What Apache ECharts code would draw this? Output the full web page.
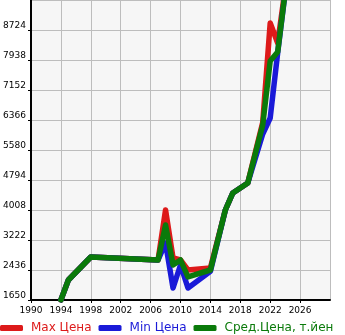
<!DOCTYPE html>
<html><head><meta charset="utf-8">
<script src="https://cdn.jsdelivr.net/npm/echarts@6/dist/echarts.min.js"></script>
<style>html,body{margin:0;padding:0;background:#fff}#c{width:345px;height:335px}</style>
</head><body><div id="c"></div>
<script>
const years = [1994, 1995, 1998, 2007, 2008, 2009, 2010, 2011, 2014, 2016, 2017, 2019, 2021, 2022, 2023, 2024];
const maxPrice = [1650, 2174, 2777, 2698, 4008, 2750, 2698, 2436, 2488, 4008, 4454, 4715, 6300, 8907, 8383, 9800];
const minPrice = [1650, 2174, 2777, 2698, 3143, 1964, 2567, 1964, 2400, 4008, 4454, 4715, 6000, 6418, 8120, 9700];
const avgPrice = [1650, 2174, 2777, 2698, 3615, 2567, 2698, 2253, 2436, 4008, 4454, 4715, 6235, 7912, 8148, 9720];
const seriesNames = ['Max Цена', 'Min Цена', 'Сред.Цена, т.йен'];
const colors = ['#dd1a1a', '#1a1ad8', '#0a7a0a'];
const xTicks = {min: 1990, max: 2030, interval: 4};
const yTicks = {min: 1650, max: 9510, interval: 786};

const pair = (vals) => years.map((y, i) => [y, vals[i]]);
const font = 'DejaVu Sans';
const chart = echarts.init(document.getElementById('c'), null, {renderer: 'canvas'});
const mk = (name, vals, color, z) => ({
  name, type: 'line', data: pair(vals), symbol: 'none', clip: true, z,
  lineStyle: {color, width: 5.5, join: 'round', cap: 'round'}, itemStyle: {color}
});
chart.setOption({
  animation: false,
  grid: {left: 31, right: 15, top: 0, bottom: 35, show: true, backgroundColor: '#f6f6f6', borderWidth: 0, containLabel: false},
  xAxis: {
    type: 'value', min: xTicks.min, max: xTicks.max, interval: xTicks.interval,
    axisLine: {show: true, onZero: false, lineStyle: {color: '#000', width: 2}},
    axisTick: {show: true, length: 3, lineStyle: {color: '#000'}},
    splitLine: {show: true, lineStyle: {color: '#bdbdbd', width: 1}},
    axisLabel: {color: '#000', fontFamily: font, fontSize: 9, margin: 6, showMaxLabel: false, formatter: v => String(v)}
  },
  yAxis: {
    type: 'value', min: yTicks.min, max: yTicks.max, interval: yTicks.interval,
    axisLine: {show: true, onZero: false, lineStyle: {color: '#000', width: 2}},
    axisTick: {show: true, length: 3, lineStyle: {color: '#000'}},
    splitLine: {show: true, lineStyle: {color: '#bdbdbd', width: 1}},
    axisLabel: {color: '#000', fontFamily: font, fontSize: 9, margin: 5, verticalAlign: 'bottom', showMaxLabel: false, formatter: v => String(v)}
  },
  legend: {
    left: 0, top: 322, itemWidth: 23, itemHeight: 6, itemGap: 7, icon: 'roundRect', padding: 0,
    textStyle: {fontFamily: font, fontSize: 12, padding: [0, 0, 0, 3]},
    data: seriesNames.map((n, i) => ({name: n, textStyle: {color: colors[i]}}))
  },
  series: [
    mk(seriesNames[0], maxPrice, colors[0], 2),
    mk(seriesNames[1], minPrice, colors[1], 3),
    mk(seriesNames[2], avgPrice, colors[2], 4)
  ]
});
</script></body></html>
